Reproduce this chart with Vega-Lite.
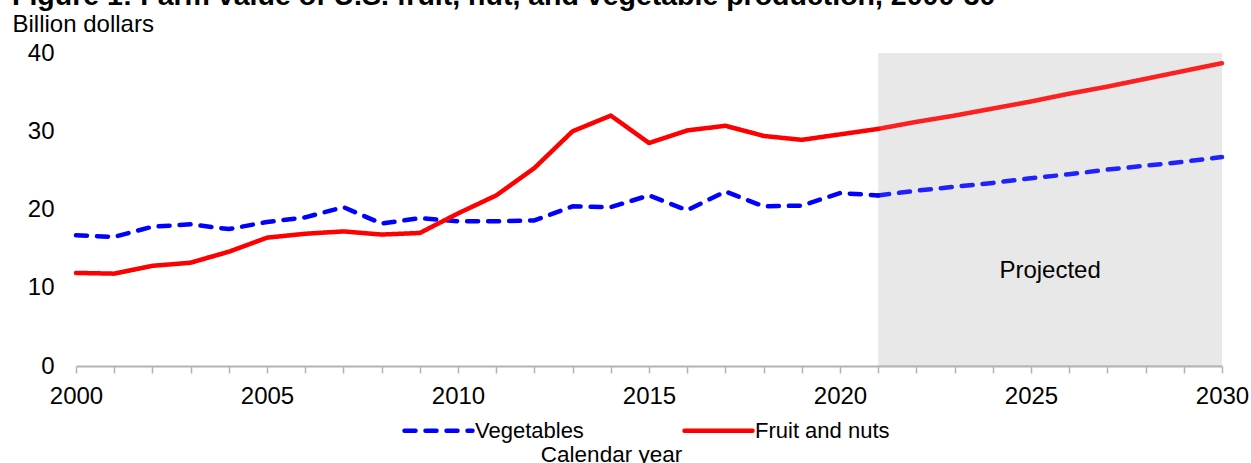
{
  "$schema": "https://vega.github.io/schema/vega-lite/v6.json",
  "width": 1146,
  "height": 313,
  "autosize": {"type": "none"},
  "padding": {"left": 76, "top": 53, "right": 29, "bottom": 97},
  "background": "white",
  "config": {
    "view": {"stroke": null},
    "font": "Liberation Sans"
  },
  "title": {
    "text": "Figure 1: Farm value of U.S. fruit, nut, and vegetable production, 2000-30",
    "anchor": "start",
    "frame": "group",
    "dx": -64,
    "offset": -21,
    "fontSize": 28.5,
    "fontWeight": "bold",
    "font": "Liberation Sans",
    "color": "black",
    "baseline": "alphabetic"
  },
  "datasets": {
    "lines": [
      {"year": 2000, "series": "Vegetables", "period": "Historical", "value": 16.7},
      {"year": 2001, "series": "Vegetables", "period": "Historical", "value": 16.5},
      {"year": 2002, "series": "Vegetables", "period": "Historical", "value": 17.8},
      {"year": 2003, "series": "Vegetables", "period": "Historical", "value": 18.1},
      {"year": 2004, "series": "Vegetables", "period": "Historical", "value": 17.5},
      {"year": 2005, "series": "Vegetables", "period": "Historical", "value": 18.4},
      {"year": 2006, "series": "Vegetables", "period": "Historical", "value": 19.0},
      {"year": 2007, "series": "Vegetables", "period": "Historical", "value": 20.3},
      {"year": 2008, "series": "Vegetables", "period": "Historical", "value": 18.2},
      {"year": 2009, "series": "Vegetables", "period": "Historical", "value": 18.9},
      {"year": 2010, "series": "Vegetables", "period": "Historical", "value": 18.5},
      {"year": 2011, "series": "Vegetables", "period": "Historical", "value": 18.5},
      {"year": 2012, "series": "Vegetables", "period": "Historical", "value": 18.6},
      {"year": 2013, "series": "Vegetables", "period": "Historical", "value": 20.4},
      {"year": 2014, "series": "Vegetables", "period": "Historical", "value": 20.3},
      {"year": 2015, "series": "Vegetables", "period": "Historical", "value": 21.8},
      {"year": 2016, "series": "Vegetables", "period": "Historical", "value": 19.9},
      {"year": 2017, "series": "Vegetables", "period": "Historical", "value": 22.3},
      {"year": 2018, "series": "Vegetables", "period": "Historical", "value": 20.4},
      {"year": 2019, "series": "Vegetables", "period": "Historical", "value": 20.5},
      {"year": 2020, "series": "Vegetables", "period": "Historical", "value": 22.1},
      {"year": 2021, "series": "Vegetables", "period": "Historical", "value": 21.8},
      {"year": 2021, "series": "Vegetables", "period": "Projected", "value": 21.8},
      {"year": 2022, "series": "Vegetables", "period": "Projected", "value": 22.4},
      {"year": 2023, "series": "Vegetables", "period": "Projected", "value": 22.9},
      {"year": 2024, "series": "Vegetables", "period": "Projected", "value": 23.4},
      {"year": 2025, "series": "Vegetables", "period": "Projected", "value": 24.0},
      {"year": 2026, "series": "Vegetables", "period": "Projected", "value": 24.5},
      {"year": 2027, "series": "Vegetables", "period": "Projected", "value": 25.1},
      {"year": 2028, "series": "Vegetables", "period": "Projected", "value": 25.6},
      {"year": 2029, "series": "Vegetables", "period": "Projected", "value": 26.1},
      {"year": 2030, "series": "Vegetables", "period": "Projected", "value": 26.7},
      {"year": 2000, "series": "Fruit and nuts", "period": "Historical", "value": 11.9},
      {"year": 2001, "series": "Fruit and nuts", "period": "Historical", "value": 11.8},
      {"year": 2002, "series": "Fruit and nuts", "period": "Historical", "value": 12.8},
      {"year": 2003, "series": "Fruit and nuts", "period": "Historical", "value": 13.2},
      {"year": 2004, "series": "Fruit and nuts", "period": "Historical", "value": 14.6},
      {"year": 2005, "series": "Fruit and nuts", "period": "Historical", "value": 16.4},
      {"year": 2006, "series": "Fruit and nuts", "period": "Historical", "value": 16.9},
      {"year": 2007, "series": "Fruit and nuts", "period": "Historical", "value": 17.2},
      {"year": 2008, "series": "Fruit and nuts", "period": "Historical", "value": 16.8},
      {"year": 2009, "series": "Fruit and nuts", "period": "Historical", "value": 17.0},
      {"year": 2010, "series": "Fruit and nuts", "period": "Historical", "value": 19.5},
      {"year": 2011, "series": "Fruit and nuts", "period": "Historical", "value": 21.8},
      {"year": 2012, "series": "Fruit and nuts", "period": "Historical", "value": 25.3},
      {"year": 2013, "series": "Fruit and nuts", "period": "Historical", "value": 30.0},
      {"year": 2014, "series": "Fruit and nuts", "period": "Historical", "value": 32.0},
      {"year": 2015, "series": "Fruit and nuts", "period": "Historical", "value": 28.5},
      {"year": 2016, "series": "Fruit and nuts", "period": "Historical", "value": 30.1},
      {"year": 2017, "series": "Fruit and nuts", "period": "Historical", "value": 30.7},
      {"year": 2018, "series": "Fruit and nuts", "period": "Historical", "value": 29.4},
      {"year": 2019, "series": "Fruit and nuts", "period": "Historical", "value": 28.9},
      {"year": 2020, "series": "Fruit and nuts", "period": "Historical", "value": 29.6},
      {"year": 2021, "series": "Fruit and nuts", "period": "Historical", "value": 30.3},
      {"year": 2021, "series": "Fruit and nuts", "period": "Projected", "value": 30.3},
      {"year": 2022, "series": "Fruit and nuts", "period": "Projected", "value": 31.2},
      {"year": 2023, "series": "Fruit and nuts", "period": "Projected", "value": 32.0},
      {"year": 2024, "series": "Fruit and nuts", "period": "Projected", "value": 32.9},
      {"year": 2025, "series": "Fruit and nuts", "period": "Projected", "value": 33.8},
      {"year": 2026, "series": "Fruit and nuts", "period": "Projected", "value": 34.8},
      {"year": 2027, "series": "Fruit and nuts", "period": "Projected", "value": 35.7},
      {"year": 2028, "series": "Fruit and nuts", "period": "Projected", "value": 36.7},
      {"year": 2029, "series": "Fruit and nuts", "period": "Projected", "value": 37.7},
      {"year": 2030, "series": "Fruit and nuts", "period": "Projected", "value": 38.7}
    ],
    "shade": [{"start": 2021, "end": 2030, "label": "Projected"}]
  },
  "encoding": {
    "x": {
      "field": "year",
      "type": "quantitative",
      "scale": {"domain": [2000, 2030], "nice": false, "zero": false},
      "axis": {
        "values": [2000, 2001, 2002, 2003, 2004, 2005, 2006, 2007, 2008, 2009, 2010, 2011, 2012, 2013, 2014, 2015, 2016, 2017, 2018, 2019, 2020, 2021, 2022, 2023, 2024, 2025, 2026, 2027, 2028, 2029, 2030],
        "labelExpr": "datum.value % 5 === 0 ? datum.label : ''",
        "format": "d",
        "grid": false,
        "domainColor": "#b3b3b3",
        "domainWidth": 2,
        "tickColor": "#b3b3b3",
        "tickWidth": 1.5,
        "tickSize": 7,
        "labelFontSize": 24,
        "labelFont": "Liberation Sans",
        "labelColor": "black",
        "labelPadding": 11,
        "labelFlush": false,
        "labelOverlap": false,
        "title": "Calendar year",
        "titleFontSize": 22.5,
        "titleFont": "Liberation Sans",
        "titleFontWeight": "normal",
        "titleColor": "black",
        "titleX": 535,
        "titleY": 95,
        "titleAlign": "center",
        "titleBaseline": "alphabetic"
      }
    }
  },
  "layer": [
    {
      "data": {"name": "shade"},
      "mark": {"type": "rect", "color": "#000000", "opacity": 0.09},
      "encoding": {
        "x": {"field": "start", "type": "quantitative"},
        "x2": {"field": "end"}
      }
    },
    {
      "data": {"name": "shade"},
      "transform": [{"fold": ["start", "end"], "as": ["edge", "edgeYear"]}],
      "mark": {"type": "text", "text": "Projected", "fontSize": 24, "font": "Liberation Sans", "fill": "black", "align": "center", "baseline": "middle"},
      "encoding": {
        "x": {"field": "edgeYear", "aggregate": "mean", "type": "quantitative"},
        "y": {"datum": 12.2}
      }
    },
    {
      "data": {"name": "lines"},
      "mark": {"type": "line", "strokeWidth": 4.5, "strokeCap": "round", "strokeJoin": "round"},
      "encoding": {
        "y": {
          "field": "value",
          "type": "quantitative",
          "scale": {"domain": [0, 40], "nice": false},
          "axis": {
            "values": [0, 10, 20, 30, 40],
            "domain": false,
            "ticks": false,
            "gridColor": "#d9d9d9",
            "gridWidth": 2,
            "labelFontSize": 24,
            "labelFont": "Liberation Sans",
            "labelColor": "black",
            "labelPadding": 22,
            "title": "Billion dollars",
            "titleFontSize": 24,
            "titleFont": "Liberation Sans",
            "titleFontWeight": "normal",
            "titleColor": "black",
            "titleAngle": 0,
            "titleX": -64,
            "titleY": -22,
            "titleAlign": "left",
            "titleBaseline": "alphabetic"
          }
        },
        "color": {
          "field": "series",
          "type": "nominal",
          "scale": {"domain": ["Vegetables", "Fruit and nuts"], "range": ["#0000ff", "#ff0000"]},
          "legend": {
            "title": null,
            "orient": "none",
            "legendX": 326,
            "legendY": 341,
            "direction": "horizontal",
            "padding": 0,
            "symbolType": "stroke",
            "symbolSize": 4624,
            "symbolStrokeWidth": 4.5,
            "labelFontSize": 22,
            "labelFont": "Liberation Sans",
            "labelColor": "black",
            "labelOffset": 0,
            "columnPadding": 91,
            "encode": {"symbols": {"update": {"strokeCap": {"value": "round"}}}}
          }
        },
        "strokeDash": {
          "field": "series",
          "type": "nominal",
          "scale": {"domain": ["Vegetables", "Fruit and nuts"], "range": [[11, 10], [1, 0]]}
        },
        "opacity": {
          "field": "period",
          "type": "nominal",
          "scale": {"domain": ["Historical", "Projected"], "range": [1, 0.86]},
          "legend": null
        }
      }
    }
  ]
}
